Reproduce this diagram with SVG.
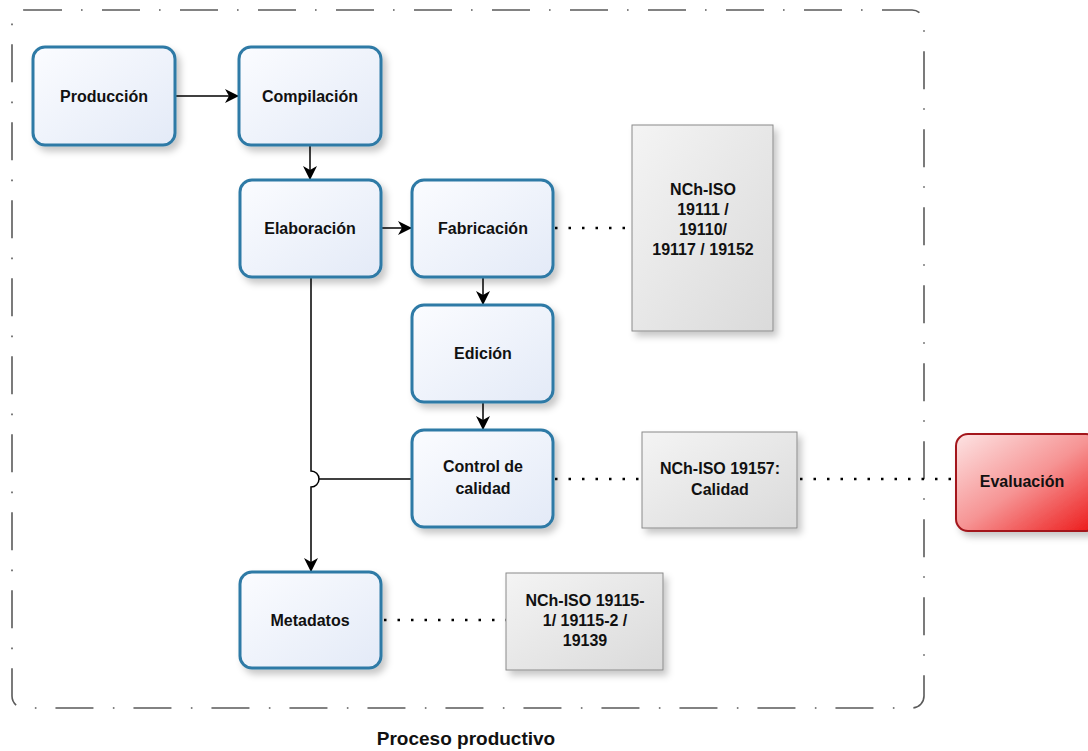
<svg xmlns="http://www.w3.org/2000/svg" width="1088" height="751" viewBox="0 0 1088 751">
<style>
.frame{fill:none;stroke:#5a5a5a;stroke-width:1.6;stroke-dasharray:38 19 1.6 19.4}
.box{stroke:#2f7aa6;stroke-width:3;fill:url(#gBlue)}
.doc{stroke:#8a8a8a;stroke-width:1;fill:url(#gGray)}
.red{stroke:#a3161b;stroke-width:2;fill:url(#gRed)}
.t{font-family:"Liberation Sans",Arial,sans-serif;font-weight:bold;font-size:16px;fill:#111;text-anchor:middle}
.ln{fill:none;stroke:#000;stroke-width:1.5}
.dot{fill:none;stroke:#000;stroke-width:2.5;stroke-dasharray:2.5 11}
</style>
<defs>
<linearGradient id="gBlue" x1="0" y1="0" x2="1" y2="1">
<stop offset="0" stop-color="#fbfcff"/>
<stop offset="1" stop-color="#e3eaf7"/>
</linearGradient>
<linearGradient id="gGray" x1="0" y1="0" x2="1" y2="1">
<stop offset="0" stop-color="#f4f4f4"/>
<stop offset="1" stop-color="#dadada"/>
</linearGradient>
<linearGradient id="gRed" x1="0" y1="0" x2="1" y2="1">
<stop offset="0" stop-color="#fde4e4"/>
<stop offset="0.5" stop-color="#f69494"/>
<stop offset="1" stop-color="#ec1515"/>
</linearGradient>
<filter id="sh" x="-20%" y="-20%" width="150%" height="150%">
<feDropShadow dx="4" dy="5" stdDeviation="3.5" flood-color="#000" flood-opacity="0.22"/>
</filter>
<marker id="arr" markerUnits="userSpaceOnUse" markerWidth="16" markerHeight="16" refX="14" refY="7" orient="auto">
<path d="M0,0 L14,7 L0,14 L4,7 z" fill="#000"/>
</marker>
</defs>
<rect width="1088" height="751" fill="#fff"/>
<rect class="frame" x="12" y="10" width="912" height="698" rx="12"/>
<text class="t" x="466" y="745" style="font-size:19px">Proceso productivo</text>

<g id="connectors">
<path class="ln" d="M175,96 H239" marker-end="url(#arr)"/>
<path class="ln" d="M310,145 V180" marker-end="url(#arr)"/>
<path class="ln" d="M381,228 H412" marker-end="url(#arr)"/>
<path class="ln" d="M483,276 V305" marker-end="url(#arr)"/>
<path class="ln" d="M483,402 V430" marker-end="url(#arr)"/>
<path class="ln" d="M311,277 V471 A8,8 0 0 1 311,487 V572" marker-end="url(#arr)"/>
<path class="ln" d="M412,479 H319"/>
<path class="dot" d="M555,228 H632"/>
<path class="dot" d="M555,479 H642"/>
<path class="dot" d="M800,479 H955"/>
<path class="dot" d="M384,620 H506"/>
</g>

<g id="produccion"><rect class="box" x="33" y="47" width="142" height="98" rx="12" filter="url(#sh)"/><text class="t" x="104" y="102">Producción</text></g>
<g id="compilacion"><rect class="box" x="239" y="47" width="142" height="98" rx="12" filter="url(#sh)"/><text class="t" x="310" y="102">Compilación</text></g>
<g id="elaboracion"><rect class="box" x="240" y="180" width="141" height="97" rx="12" filter="url(#sh)"/><text class="t" x="310" y="234">Elaboración</text></g>
<g id="fabricacion"><rect class="box" x="412" y="180" width="141" height="97" rx="12" filter="url(#sh)"/><text class="t" x="483" y="234">Fabricación</text></g>
<g id="edicion"><rect class="box" x="412" y="305" width="141" height="97" rx="12" filter="url(#sh)"/><text class="t" x="483" y="359">Edición</text></g>
<g id="control"><rect class="box" x="412" y="430" width="141" height="97" rx="12" filter="url(#sh)"/><text class="t" x="483" y="472">Control de</text><text class="t" x="483" y="494">calidad</text></g>
<g id="metadatos"><rect class="box" x="240" y="572" width="141" height="96" rx="12" filter="url(#sh)"/><text class="t" x="310" y="626">Metadatos</text></g>

<g id="doc19111"><rect class="doc" x="632" y="125" width="141" height="206" filter="url(#sh)"/>
<text class="t" x="703" y="195">NCh-ISO</text><text class="t" x="703" y="215">19111 /</text><text class="t" x="703" y="235">19110/</text><text class="t" x="703" y="255">19117 / 19152</text></g>
<g id="doc19157"><rect class="doc" x="642" y="432" width="155" height="96" filter="url(#sh)"/>
<text class="t" x="720" y="474">NCh-ISO 19157:</text><text class="t" x="720" y="495">Calidad</text></g>
<g id="doc19115"><rect class="doc" x="506" y="573" width="157" height="97" filter="url(#sh)"/>
<text class="t" x="585" y="606">NCh-ISO 19115-</text><text class="t" x="585" y="626">1/ 19115-2 /</text><text class="t" x="585" y="646">19139</text></g>
<g id="evaluacion"><rect class="red" x="956" y="434" width="142" height="97" rx="12" filter="url(#sh)"/><text class="t" x="1022" y="487">Evaluación</text></g>
</svg>
